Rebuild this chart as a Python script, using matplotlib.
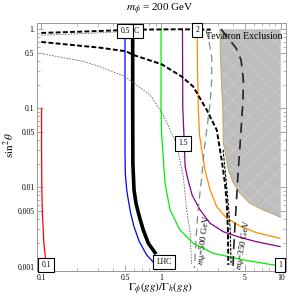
import matplotlib
matplotlib.use("Agg")
import matplotlib.pyplot as plt
from matplotlib.ticker import FixedLocator, FixedFormatter, NullFormatter

plt.rcParams["font.family"] = ["Liberation Serif", "DejaVu Serif"]
plt.rcParams["mathtext.fontset"] = "stix"
plt.rcParams["hatch.linewidth"] = 0.35

# contour curves (x = Gamma ratio, y = sin^2 theta)
red_x = [0.1005, 0.1005, 0.101, 0.102, 0.105, 0.109]
red_y = [0.1, 0.03, 0.01, 0.005, 0.002, 0.00115]

blue_x = [0.5, 0.5, 0.5, 0.503, 0.517, 0.533, 0.558, 0.595, 0.659, 0.76, 0.921]
blue_y = [1.0, 0.1, 0.03, 0.015, 0.0093, 0.00695, 0.00472, 0.00319, 0.00206, 0.0014, 0.00102]

lhc_x = [0.58, 0.58, 0.582, 0.595, 0.618, 0.659, 0.711, 0.783, 0.891]
lhc_y = [1.0, 0.1, 0.02, 0.0093, 0.0063, 0.00428, 0.0029, 0.00197, 0.0015]

green_x = [1.0, 1.0, 1.01, 1.033, 1.08, 1.19, 1.44, 1.86, 2.73, 4.94, 8.67, 10.0]
green_y = [1.0, 0.1, 0.05, 0.0298, 0.0113, 0.0052, 0.0029, 0.00197, 0.00147, 0.00121, 0.00105, 0.00103]

purple_x = [1.51, 1.52, 1.55, 1.57, 1.59, 1.68, 1.82, 2.12, 2.57, 3.31, 4.57, 6.3, 9.86]
purple_y = [1.0, 0.1, 0.05, 0.0298, 0.0183, 0.0125, 0.008, 0.0052, 0.00353, 0.00276, 0.00234, 0.00206, 0.00179]

orange_x = [2.0, 2.02, 2.05, 2.1, 2.19, 2.33, 2.57, 2.92, 3.54, 4.57, 6.3, 9.86]
orange_y = [1.0, 0.3, 0.0955, 0.045, 0.0298, 0.0166, 0.0093, 0.00572, 0.00408, 0.00326, 0.00268, 0.00228]

# dashed curves
top_dash_x = [0.1, 0.2, 0.4, 0.5, 0.7, 1.0, 1.5, 2.0, 2.6]
top_dash_y = [0.898, 0.93, 0.965, 0.98, 0.99, 0.995, 1.0, 0.99, 0.99]

top_thin_x = [0.1, 0.2, 0.3, 0.45, 0.55]
top_thin_y = [0.839, 0.875, 0.9, 0.93, 0.95]

mid_dash_x = [0.1, 0.309, 0.51, 0.587, 1.013, 1.49, 1.86, 2.41, 2.92, 3.21, 3.42, 3.54, 3.62, 3.65]
mid_dash_y = [0.691, 0.585, 0.527, 0.473, 0.361, 0.252, 0.188, 0.0955, 0.0533, 0.0223, 0.0113, 0.0063, 0.0029, 0.00105]

mid_dash2_x = [3.3, 3.5, 3.65, 3.78, 3.85]
mid_dash2_y = [0.03, 0.012, 0.006, 0.003, 0.00105]

thin_dash_x = [0.104, 0.222, 0.309, 0.5, 0.81, 1.045, 1.19, 1.335, 1.535, 1.64, 1.75, 1.8]
thin_dash_y = [0.487, 0.394, 0.337, 0.252, 0.148, 0.0825, 0.0533, 0.0365, 0.0137, 0.0052, 0.00264, 0.00105]

m500_x = [2.38, 2.52, 2.65, 2.65, 2.57, 2.41, 2.29, 2.19, 2.08, 2.0, 1.94, 1.9]
m500_y = [0.98, 0.691, 0.447, 0.229, 0.117, 0.0533, 0.0298, 0.0136, 0.00695, 0.00356, 0.00162, 0.00096]

m350_x = [3.17, 3.63, 4.23, 4.66, 4.87, 4.84, 4.72, 4.57, 4.39, 4.27, 4.15, 4.04, 3.99]
m350_y = [1.0, 0.776, 0.58, 0.409, 0.229, 0.128, 0.0713, 0.0345, 0.0144, 0.00695, 0.00336, 0.00162, 0.00096]

# Tevatron excluded region boundary
tev_x = [3.11, 3.13, 3.2, 3.28, 3.31, 3.42, 3.65, 4.02, 4.57, 5.53, 7.14, 10.0]
tev_y = [1.0, 0.5, 0.2, 0.0955, 0.0362, 0.0298, 0.0166, 0.0113, 0.00845, 0.0063, 0.0052, 0.0042]

# contour labels
box_text = ["0.1", "LHC", "0.5", "2", "1.5", "LHC", "1"]
box_x = [0.11, 0.578, 0.5, 2.0, 1.53, 1.06, 9.95]
box_y = [0.00105, 0.96, 0.96, 0.97, 0.036, 0.00113, 0.00105]

x_ticks = [0.1, 0.5, 1, 5, 10]
x_tick_labels = ["0.1", "0.5", "1", "5", "10"]
y_ticks = [0.001, 0.005, 0.01, 0.05, 0.1, 0.5, 1]
y_tick_labels = ["0.001", "0.005", "0.01", "0.05", "0.1", "0.5", "1."]


def minor_ticks(lo_exp, hi_exp):
    vals = []
    for e in range(lo_exp, hi_exp + 1):
        for m in [2, 3, 4, 6, 7, 8, 9]:
            vals.append(m * 10.0 ** e)
    return vals


fig = plt.figure(figsize=(2.91, 3.0), dpi=100)
ax = fig.add_axes([0.1282, 0.0967, 0.8536, 0.8257])
ax.set_xscale("log")
ax.set_yscale("log")

# shaded exclusion region
poly_x = tev_x + [10.0, 10.0]
poly_y = tev_y + [tev_y[-1], 1.0]
ax.fill(poly_x, poly_y, facecolor="#bdbdbd", edgecolor="#d4d4d4", hatch="xx", linewidth=0, zorder=1)
ax.plot(tev_x, tev_y, color="#c8a06e", lw=0.7, zorder=2)

ax.plot(red_x, red_y, color="#ff0000", lw=0.9, zorder=3)
ax.plot(blue_x, blue_y, color="#0000ff", lw=0.9, zorder=3)
ax.plot(lhc_x, lhc_y, color="black", lw=2.6, zorder=3)
ax.plot(green_x, green_y, color="#00ee00", lw=0.9, zorder=3)
ax.plot(purple_x, purple_y, color="#8b008b", lw=0.9, zorder=3)
ax.plot(orange_x, orange_y, color="#ff8c00", lw=0.9, zorder=3)

ax.plot(top_dash_x, top_dash_y, color="black", lw=1.4, dashes=(2.5, 1.2), zorder=3)
ax.plot(top_thin_x, top_thin_y, color="#666666", lw=0.6, dashes=(2, 1.5), zorder=3)
ax.plot(mid_dash_x, mid_dash_y, color="black", lw=1.4, dashes=(2.5, 1.2), zorder=3)
ax.plot(mid_dash2_x, mid_dash2_y, color="black", lw=0.8, dashes=(2.5, 1.2), zorder=3)
ax.plot(thin_dash_x, thin_dash_y, color="#666666", lw=0.6, dashes=(2, 1.5), zorder=3)
ax.plot(m500_x, m500_y, color="#888888", lw=0.9, dashes=(6, 4), zorder=3)
ax.plot(m350_x, m350_y, color="#222222", lw=1.2, dashes=(6, 4), zorder=3)

for t, bx, by in zip(box_text, box_x, box_y):
    ax.text(bx, by, t, fontsize=5.5, ha="center", va="center", zorder=5,
            bbox=dict(boxstyle="square,pad=0.4", fc="white", ec="black", lw=0.8))

ax.text(4.94, 0.82, "Tevatron Exclusion", fontsize=7, ha="center", va="center", zorder=6)
ax.text(2.29, 0.00217, r"$m_\phi$=500 GeV", fontsize=6.5, rotation=83,
        ha="center", va="center", zorder=6)
ax.text(4.94, 0.00187, r"$m_\phi$=350 GeV", fontsize=6.5, rotation=80,
        ha="center", va="center", zorder=6)

ax.set_xlim(0.0926, 11.0)
ax.set_ylim(0.00088, 1.19)

ax.xaxis.set_major_locator(FixedLocator(x_ticks))
ax.xaxis.set_major_formatter(FixedFormatter(x_tick_labels))
ax.xaxis.set_minor_locator(FixedLocator(minor_ticks(-1, 0)))
ax.xaxis.set_minor_formatter(NullFormatter())
ax.yaxis.set_major_locator(FixedLocator(y_ticks))
ax.yaxis.set_major_formatter(FixedFormatter(y_tick_labels))
ax.yaxis.set_minor_locator(FixedLocator(minor_ticks(-3, -1)))
ax.yaxis.set_minor_formatter(NullFormatter())

ax.tick_params(which="both", direction="in", top=True, right=True, color="#999999",
               labelsize=5.5, pad=2)
ax.tick_params(which="major", length=4, width=0.6)
ax.tick_params(which="minor", length=2, width=0.5)
for s in ax.spines.values():
    s.set_color("#999999")
    s.set_linewidth(0.7)

fig.text(160 / 291, 1 - 9 / 300, r"$m_\phi$ = 200 GeV", fontsize=8, ha="center", va="center")
fig.text(160 / 291, 1 - 289 / 300, r"$\Gamma_\phi(gg)/\Gamma_h(gg)$", fontsize=8,
         ha="center", va="center")
fig.text(9 / 291, 1 - 145 / 300, r"$\sin^2\theta$", fontsize=8, rotation=90,
         ha="center", va="center")

fig.savefig("out.png", dpi=100)
